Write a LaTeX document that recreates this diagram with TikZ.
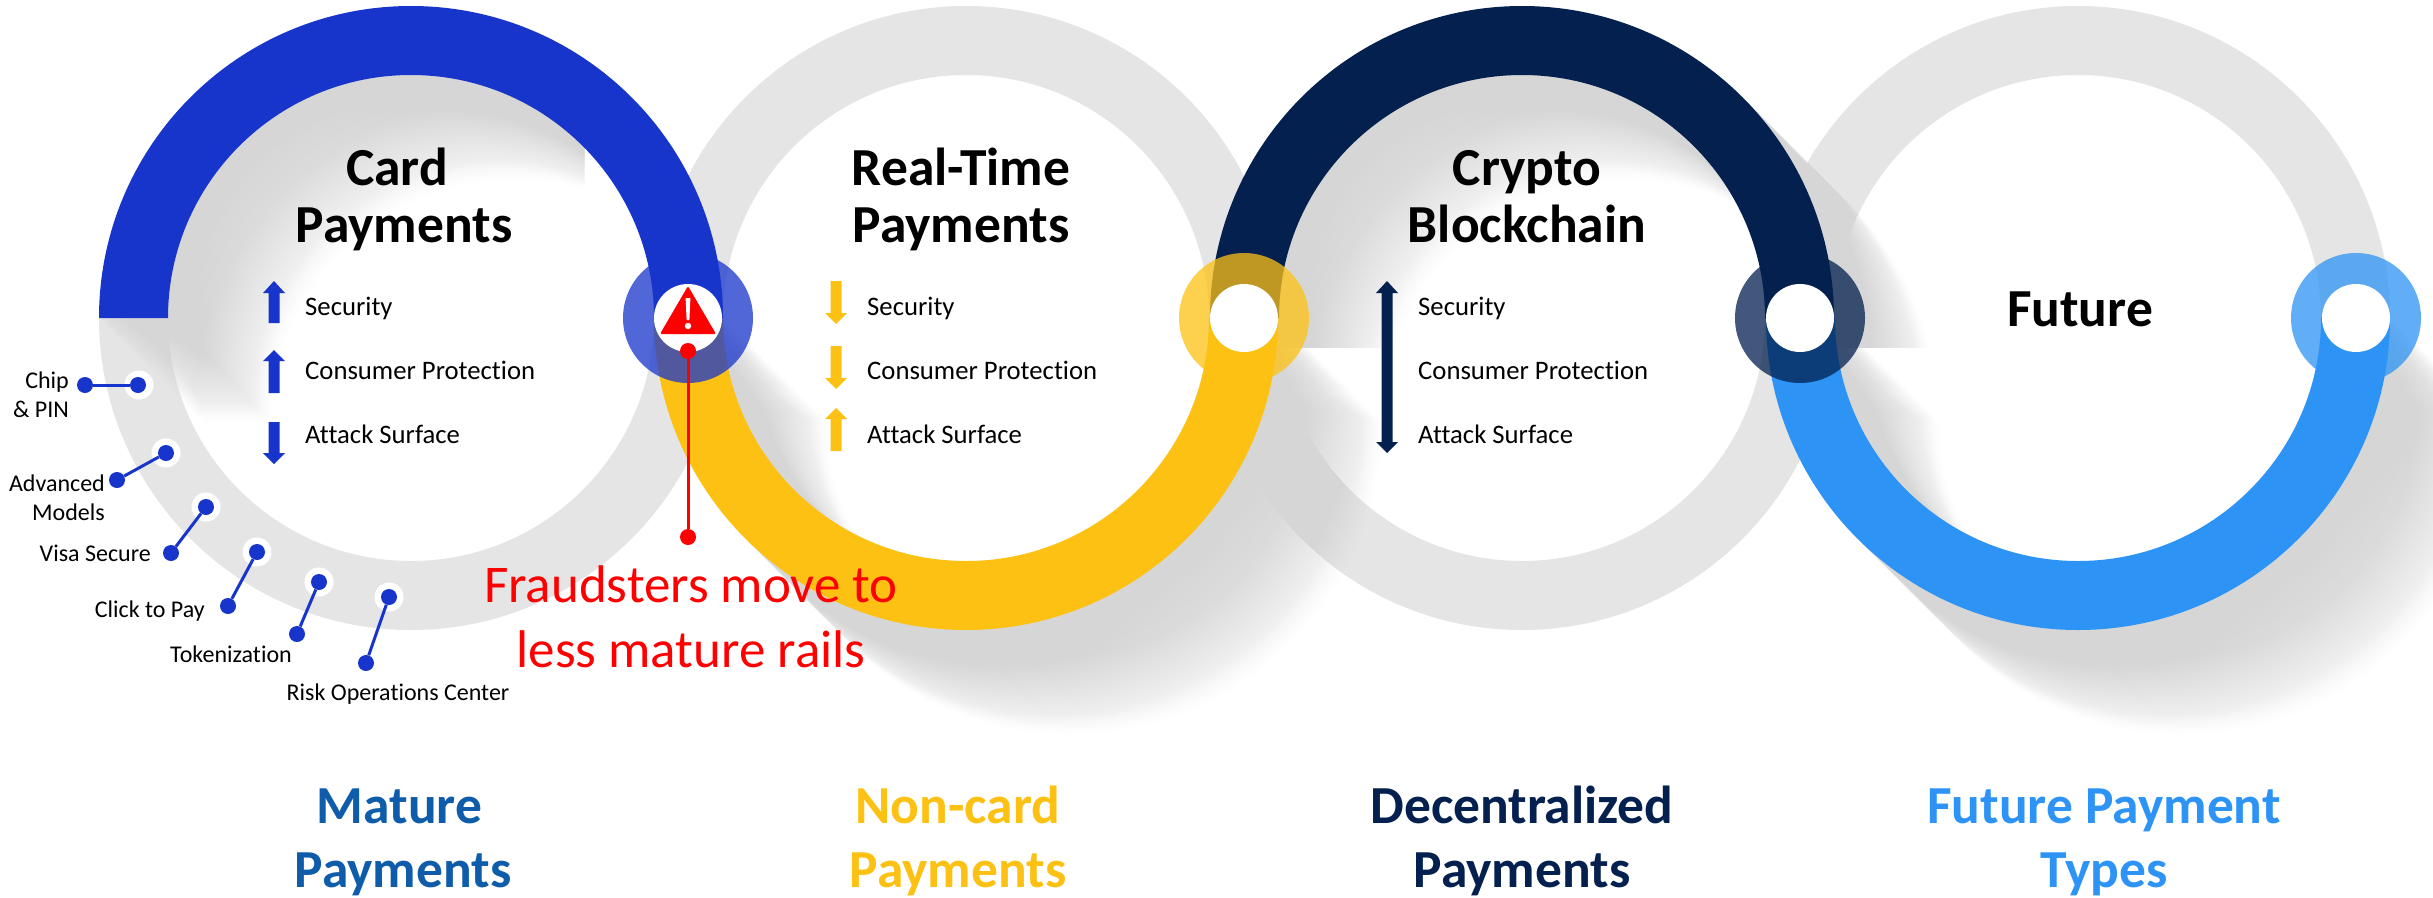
\documentclass[tikz,border=0pt]{standalone}
\usepackage{fontspec}
\setmainfont[Ligatures=NoCommon]{Carlito}
\definecolor{cblue}{HTML}{1835CB}
\definecolor{cyellow}{HTML}{FDC114}
\definecolor{cdark}{HTML}{03204F}
\definecolor{clight}{HTML}{2D94F5}
\definecolor{cmature}{HTML}{0F5CAA}
\definecolor{cring}{HTML}{E5E5E5}
\definecolor{cshade}{HTML}{D6D6D6}
\newcommand\topring[1]{(#1-312,318) arc[start angle=180,end angle=360,radius=312] -- (#1+243,318) arc[start angle=360,end angle=180,radius=243] -- cycle}
\newcommand\botring[1]{(#1-312,318) arc[start angle=180,end angle=0,radius=312] -- (#1+243,318) arc[start angle=0,end angle=180,radius=243] -- cycle}
\newcommand\longshadow[1]{%
  \foreach \k [evaluate=\k as \op using {0.022+0.09*(1-\k/52)},evaluate=\k as \s using {2*\k}] in {52,51,...,1}{
    \fill[cshade,fill opacity=\op,shift={(\s,\s)}] #1;
  }}
\newcommand\arrowup[5]{\fill[#1] (#2,#3) -- (#2+11,#4) -- (#2+5.5,#4) -- (#2+5.5,#5) -- (#2-5.5,#5) -- (#2-5.5,#4) -- (#2-11,#4) -- cycle;}
\tikzset{
  ttl/.style={font=\fontsize{53.5}{57}\selectfont\bfseries,align=center,anchor=base,inner sep=0pt},
  captxt/.style={font=\fontsize{53.5}{64}\selectfont\bfseries,align=center,anchor=base,inner sep=0pt},
  item/.style={font=\fontsize{26.7}{29}\selectfont,anchor=base west,inner sep=0pt},
  tag/.style={font=\fontsize{24}{29}\selectfont,inner sep=0pt},
  halo/.style={circle,fill=white,minimum size=29pt,inner sep=0pt},
  pin/.style={circle,fill=cblue,minimum size=16pt,inner sep=0pt},
  redpin/.style={circle,fill=red,minimum size=16pt,inner sep=0pt},
  badge/.style={circle,minimum size=130pt,inner sep=0pt,fill opacity=.75},
  hole/.style={circle,fill=white,minimum size=68pt,inner sep=0pt},
  lead/.style={cblue,line width=3pt}
}
\begin{document}
\begin{tikzpicture}[x=1pt,y=1pt,yscale=-1]
\useasboundingbox (0,0) rectangle (2433,897);
\fill[white] (0,0) rectangle (2433,897);
% grey half rings
\fill[cring] \botring{411};
\fill[cring] \topring{966};
\fill[cring] \botring{1522};
\fill[cring] \topring{2078};
% long shadows
\begin{scope}
  \clip (0,0) rectangle (584,897);
  \longshadow{\topring{411}}
\end{scope}
\longshadow{\botring{966}}
\begin{scope}
  \clip (0,0) rectangle (2433,347);
  \longshadow{\topring{1522}}
\end{scope}
\longshadow{\botring{2078}}
% coloured arcs
\fill[cyellow] \botring{966};
\fill[cblue] \topring{411};
\fill[clight] \botring{2078};
\fill[cdark] \topring{1522};
% badges
\node[badge,fill=cblue] (b1) at (688,318) {};
\node[badge,fill=cyellow] (b2) at (1244,318) {};
\node[badge,fill=cdark] (b3) at (1800,318) {};
\node[badge,fill=clight] (b4) at (2356,318) {};
\node[hole] (h1) at (688,318) {};
\node[hole] (h2) at (1244,318) {};
\node[hole] (h3) at (1800,318) {};
\node[hole] (h4) at (2356,318) {};
% warning sign
\fill[red,rounded corners=2pt] (688,286) -- (716,334) -- (660,334) -- cycle;
\fill[white] (685.6,298) -- (690.4,298) -- (689.4,320) -- (686.6,320) -- cycle;
\fill[white] (688,326) circle (3.2);
% red callout
\node[redpin] (r1) at (688,351) {};
\node[redpin] (r2) at (688,537) {};
\draw[red,line width=3pt] (r1) -- (r2);
\node[font=\fontsize{53}{65}\selectfont,text=red,align=center,anchor=base,inner sep=0pt] (fraud) at (691,667) {Fraudsters move to\\less mature rails};
% arrows
\arrowup{cblue}{274}{281}{293}{323}
\arrowup{cblue}{274}{350}{361}{393}
\arrowup{cblue}{274}{464}{453}{422}
\arrowup{cyellow}{836}{324}{313}{281}
\arrowup{cyellow}{836}{389}{378}{346}
\arrowup{cyellow}{836}{408}{419}{451}
\fill[cdark] (1387,281) -- (1398,293) -- (1392.5,293) -- (1392.5,442) -- (1398,442) -- (1387,453) -- (1376,442) -- (1381.5,442) -- (1381.5,293) -- (1376,293) -- cycle;
% titles
\node[ttl] (t1) at (404,242) {\hspace*{-14pt}Card\\Payments};
\node[ttl] (t2) at (961,242) {Real-Time\\Payments};
\node[ttl] (t3) at (1527,242) {Crypto\\Blockchain};
\node[ttl] (t4) at (2080,326) {Future};
% items
\node[item] (a1) at (305,315) {Security};
\node[item] (a2) at (305,379) {Consumer Protection};
\node[item] (a3) at (305,443) {Attack Surface};
\node[item] (b1t) at (867,315) {Security};
\node[item] (b2t) at (867,379) {Consumer Protection};
\node[item] (b3t) at (867,443) {Attack Surface};
\node[item] (c1) at (1418,315) {Security};
\node[item] (c2) at (1418,379) {Consumer Protection};
\node[item] (c3) at (1418,443) {Attack Surface};
% pins on the grey ring
\node[halo] (hl1) at (139,385) {};
\node[halo] (hl2) at (166,453) {};
\node[halo] (hl3) at (206,507) {};
\node[halo] (hl4) at (257,552) {};
\node[halo] (hl5) at (319,582) {};
\node[halo] (hl6) at (389,597) {};
\node[pin] (p1) at (138,385) {};
\node[pin] (p2) at (166,453) {};
\node[pin] (p3) at (206,507) {};
\node[pin] (p4) at (257,552) {};
\node[pin] (p5) at (319,582) {};
\node[pin] (p6) at (389,597) {};
\node[pin] (e1) at (85,385) {};
\node[pin] (e2) at (117,480) {};
\node[pin] (e3) at (171,553) {};
\node[pin] (e4) at (228,606) {};
\node[pin] (e5) at (297,634) {};
\node[pin] (e6) at (366,663) {};
\foreach \i in {1,...,6} \draw[lead] (p\i) -- (e\i);
\node[tag,anchor=base east,align=right] (l1) at (69,417) {Chip\\\& PIN};
\node[tag,anchor=base east,align=right] (l2) at (105,520) {Advanced\\Models};
\node[tag,anchor=base east] (l3) at (151,561) {Visa Secure};
\node[tag,anchor=base east] (l4) at (205,617) {Click to Pay};
\node[tag,anchor=base east] (l5) at (292,662) {Tokenization};
\node[tag,anchor=base] (l6) at (398,700) {Risk Operations Center};
% captions
\node[captxt,text=cmature] (k1) at (403,887) {\hspace*{-7pt}Mature\\Payments};
\node[captxt,text=cyellow] (k2) at (958,887) {Non-card\\Payments};
\node[captxt,text=cdark] (k3) at (1522,887) {Decentralized\\Payments};
\node[captxt,text=clight] (k4) at (2104,887) {Future Payment\\Types};
\end{tikzpicture}
\end{document}
